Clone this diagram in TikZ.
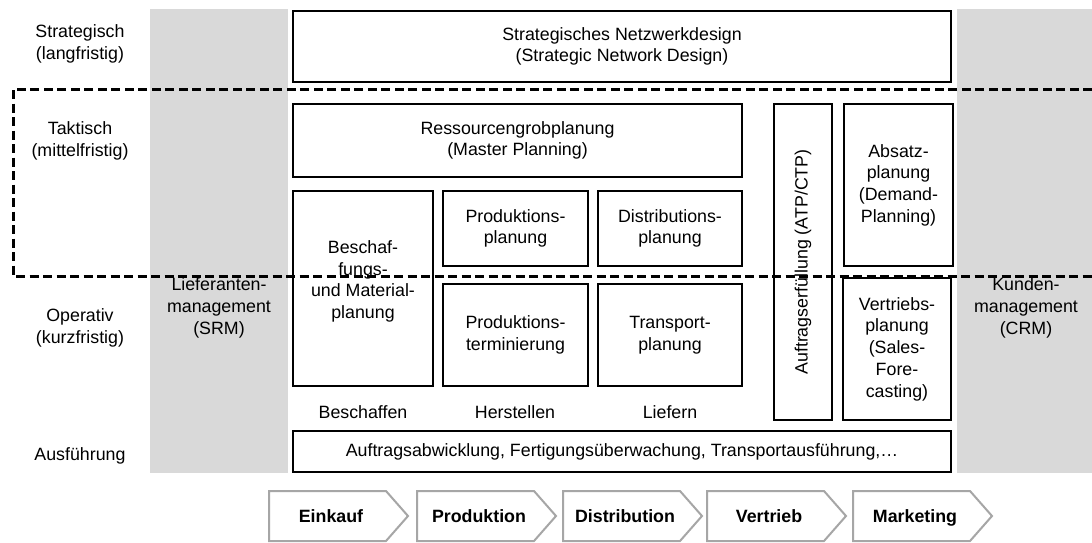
\documentclass[tikz,border=0pt]{standalone}
\usepackage{fontspec}
\setmainfont{Liberation Sans}
\begin{document}
\begin{tikzpicture}[x=1pt,y=-1pt,
  txt/.style={font=\fontsize{17.8}{21.7}\selectfont, align=center, inner sep=0pt, text=black},
  box/.style={txt, draw=black, line width=2.2pt},
  band/.style={fill=black!15, draw=none},
  chevline/.style={draw=black!35, line width=2pt, line join=miter, fill=white},
  chevtext/.style={font=\fontsize{17.8}{21.7}\selectfont\bfseries, inner sep=0pt, text=black, anchor=base},
  dashline/.style={line width=3pt, dash pattern=on 9pt off 4.5pt}
]
\useasboundingbox (0,0) rectangle (1092,543);

% grey management bands
\fill[band] (150,9) rectangle (288,473);
\fill[band] (957,9) rectangle (1092,473);

% planning levels
\node[txt] (lstrat) at (80,44)  {Strategisch\\(langfristig)};
\node[txt] (ltakt)  at (80,141) {Taktisch\\(mittelfristig)};
\node[txt] (lop)    at (80,328) {Operativ\\(kurzfristig)};
\node[txt] (lausf)  at (80,456) {Ausführung};

% management labels
\node[txt] (srm) at (219,308) {Lieferanten-\\management\\(SRM)};
\node[txt] (crm) at (1026,308) {Kunden-\\management\\(CRM)};

% planning modules
\node[box, minimum width=657.8pt, minimum height=70.8pt] (snd) at (622,46.5)
  {Strategisches Netzwerkdesign\\(Strategic Network Design)};
\node[box, minimum width=448.8pt, minimum height=72.8pt] (mp) at (517.5,140.5)
  {Ressourcengrobplanung\\(Master Planning)};
\node[box, minimum width=139.8pt, minimum height=194.8pt] (besch) at (363,288.5) {};
\node[txt, yshift=7pt] (beschtxt) at (besch.center) {Beschaf-\\fungs-\\und Material-\\planung};
\node[box, minimum width=144.8pt, minimum height=74.8pt] (pp) at (515.5,228.5)
  {Produktions-\\planung};
\node[box, minimum width=143.8pt, minimum height=74.8pt] (dp) at (670,228.5)
  {Distributions-\\planung};
\node[box, minimum width=144.8pt, minimum height=101.8pt] (pt) at (515.5,335)
  {Produktions-\\terminierung};
\node[box, minimum width=143.8pt, minimum height=101.8pt] (tp) at (670,335)
  {Transport-\\planung};
\node[box, minimum width=57.8pt, minimum height=315.8pt] (atp) at (803,262) {};
\node[txt, rotate=90] (atptxt) at (atp.center) {Auftragserfüllung (ATP/CTP)};
\node[box, minimum width=108.8pt, minimum height=161.8pt] (dem) at (898.5,185)
  {Absatz-\\planung\\(Demand-\\Planning)};
\node[box, minimum width=107.8pt, minimum height=141.8pt] (sales) at (897,349)
  {Vertriebs-\\planung\\(Sales-\\Fore-\\casting)};
\node[box, minimum width=657.8pt, minimum height=40.8pt] (exec) at (622,451.5)
  {Auftragsabwicklung, Fertigungsüberwachung, Transportausführung,\dots};

% process labels
\node[txt] (fbes) at (363,412) {Beschaffen};
\node[txt] (fher) at (515,412) {Herstellen};
\node[txt] (flie) at (670,412) {Liefern};

% tactical frame
\draw[dashline] (1092,89) -- (13,89) -- (13,276) -- (1092,276);

% value chain
\foreach \x/\nm/\t in {269/ein/Einkauf, 417/pro/Produktion, 563/dis/Distribution, 707/ver/Vertrieb, 853/mar/Marketing}{
  \draw[chevline] (\x,491) -- ++(117,0) -- ++(22,25) -- ++(-22,25) -- ++(-117,0) -- cycle;
  \node[chevtext] (\nm) at (\x+62,522.5) {\t};
}
\end{tikzpicture}
\end{document}
